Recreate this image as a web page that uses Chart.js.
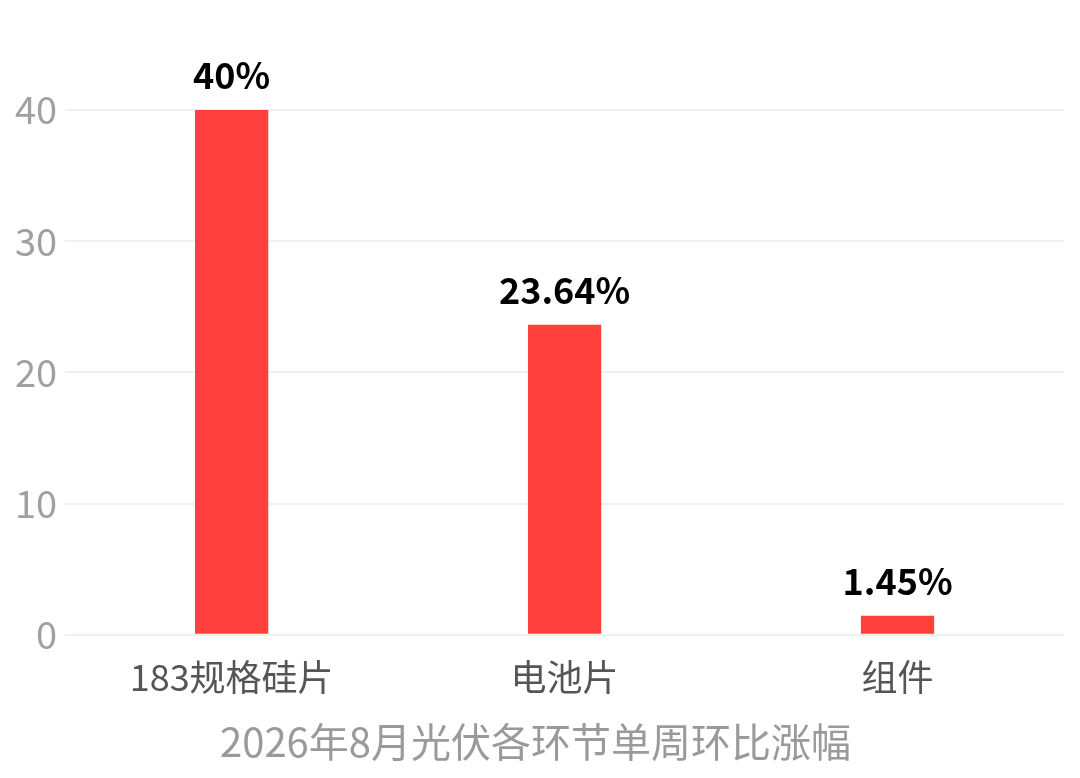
<!DOCTYPE html>
<html>
<head>
<meta charset="utf-8">
<script src="https://cdn.jsdelivr.net/npm/chart.js@4/dist/chart.umd.min.js"></script>
<style>
  html, body { margin: 0; padding: 0; background: #fff; }
  #wrap { width: 1080px; height: 778px; position: relative; }
</style>
</head>
<body>
<div id="wrap"><canvas id="chart"></canvas></div>
<script>
// Data
const categories = ['183规格硅片', '电池片', '组件'];
const changePct = [40, 23.64, 1.45];
const yTicks = [0, 10, 20, 30, 40];
const chartTitle = '2026年8月光伏各环节单周环比涨幅';

const FONT = '"Noto Sans CJK SC", "Noto Sans", sans-serif';

// Value labels above bars (no datalabels plugin available)
const barLabels = {
  id: 'barLabels',
  afterDatasetsDraw(chart) {
    const ctx = chart.ctx;
    const meta = chart.getDatasetMeta(0);
    ctx.save();
    ctx.font = 'bold 36px ' + FONT;
    ctx.fillStyle = '#000';
    ctx.textAlign = 'center';
    ctx.textBaseline = 'alphabetic';
    meta.data.forEach((bar, i) => {
      ctx.fillText(changePct[i] + '%', bar.x, bar.y - 21);
    });
    ctx.restore();
  }
};

new Chart(document.getElementById('chart'), {
  type: 'bar',
  data: {
    labels: categories,
    datasets: [{
      data: changePct,
      backgroundColor: '#ff403c',
      borderWidth: 0,
      categoryPercentage: 1,
      barPercentage: 0.22
    }]
  },
  options: {
    responsive: true,
    maintainAspectRatio: false,
    animation: false,
    layout: { padding: { top: 110, left: 7, right: 16, bottom: 0 } },
    plugins: {
      legend: { display: false },
      tooltip: { enabled: false },
      title: {
        display: true,
        text: chartTitle,
        position: 'bottom',
        color: '#9a9a9a',
        font: { family: FONT, size: 40, weight: 'normal', lineHeight: 1.2 },
        padding: { top: 6, bottom: 12 }
      }
    },
    scales: {
      x: {
        grid: { display: false },
        border: { display: false },
        ticks: {
          color: '#555',
          padding: 13,
          font: { family: FONT, size: 36, lineHeight: 1.2 }
        }
      },
      y: {
        min: yTicks[0],
        max: yTicks[yTicks.length - 1],
        afterBuildTicks: axis => { axis.ticks = yTicks.map(v => ({ value: v })); },
        grid: { color: '#f0f0f0', lineWidth: 2, drawTicks: false },
        border: { display: false },
        ticks: {
          color: '#a0a0a0',
          padding: 8,
          font: { family: FONT, size: 38, lineHeight: 1.2 }
        }
      }
    }
  },
  plugins: [barLabels]
});
</script>
</body>
</html>
